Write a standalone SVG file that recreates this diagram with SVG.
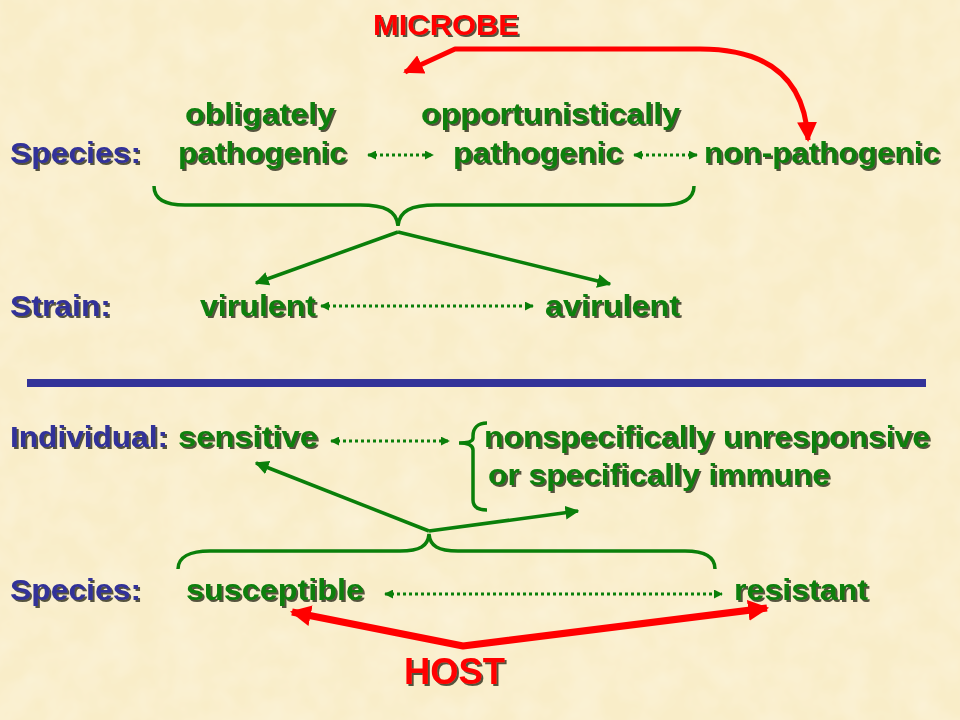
<svg xmlns="http://www.w3.org/2000/svg" width="960" height="720" viewBox="0 0 960 720">
<defs>
<style>
text{font-family:"Liberation Sans",Arial,sans-serif;font-weight:bold;filter:url(#sh)}
.g{fill:#0A7F0A;font-size:30px}
.b{fill:#333399;font-size:30px}
.r{fill:#FF0000}
.gl{fill:none;stroke:#0A7F0A;stroke-width:3.5}
.dot{fill:none;stroke:#0A7F0A;stroke-width:3;stroke-dasharray:3 3;marker-start:url(#gs);marker-end:url(#gs)}
.arr{fill:none;stroke:#0A7F0A;stroke-width:3.5;marker-end:url(#ga)}
.red{fill:none;stroke:#FF0000;stroke-linejoin:round}
</style>
<filter id="sh" x="-5%" y="-20%" width="115%" height="150%">
<feDropShadow dx="2" dy="2" stdDeviation="0.6" flood-color="#2a2a1a" flood-opacity="0.8"/>
</filter>
<filter id="tex" x="0" y="0" width="100%" height="100%">
<feTurbulence type="fractalNoise" baseFrequency="0.03" numOctaves="3" seed="4"/>
<feColorMatrix type="matrix" values="0 0 0 0 1  0 0 0 0 0.98  0 0 0 0 0.92  0 0 0 0.5 -0.15"/>
</filter>
<marker id="gs" viewBox="0 0 10 10" refX="9" refY="5" markerWidth="3" markerHeight="3" orient="auto-start-reverse">
<path d="M0,0 L10,5 L0,10 z" fill="#0A7F0A"/>
</marker>
<marker id="ga" viewBox="0 0 10 10" refX="9" refY="5" markerWidth="4" markerHeight="4" orient="auto-start-reverse">
<path d="M0,0 L10,5 L0,10 z" fill="#0A7F0A"/>
</marker>
<marker id="ra" viewBox="0 0 10 10" refX="9" refY="5" markerWidth="4" markerHeight="4" orient="auto-start-reverse">
<path d="M0,0 L10,5 L0,10 z" fill="#FF0000"/>
</marker>
<marker id="rb" viewBox="0 0 10 10" refX="9" refY="5" markerWidth="3" markerHeight="3" orient="auto-start-reverse">
<path d="M0,0 L10,5 L0,10 z" fill="#FF0000"/>
</marker>
</defs>
<rect width="960" height="720" fill="#F9EDC8"/>
<rect width="960" height="720" filter="url(#tex)"/>

<g id="microbe"><text class="r" x="373" y="35" font-size="30" textLength="146" lengthAdjust="spacingAndGlyphs">MICROBE</text></g>
<g id="obligately"><text class="g" x="185" y="124" textLength="150" lengthAdjust="spacingAndGlyphs">obligately</text></g>
<g id="opportunistically"><text class="g" x="421" y="124" textLength="259" lengthAdjust="spacingAndGlyphs">opportunistically</text></g>
<g id="species1"><text class="b" x="10" y="163" textLength="131" lengthAdjust="spacingAndGlyphs">Species:</text></g>
<g id="pathogenic1"><text class="g" x="178" y="163" textLength="169" lengthAdjust="spacingAndGlyphs">pathogenic</text></g>
<g id="pathogenic2"><text class="g" x="453" y="163" textLength="170" lengthAdjust="spacingAndGlyphs">pathogenic</text></g>
<g id="nonpathogenic"><text class="g" x="704" y="163" textLength="236" lengthAdjust="spacingAndGlyphs">non-pathogenic</text></g>
<g id="strain"><text class="b" x="10" y="316" textLength="101" lengthAdjust="spacingAndGlyphs">Strain:</text></g>
<g id="virulent"><text class="g" x="200" y="316" textLength="116" lengthAdjust="spacingAndGlyphs">virulent</text></g>
<g id="avirulent"><text class="g" x="545" y="316" textLength="135" lengthAdjust="spacingAndGlyphs">avirulent</text></g>
<g id="divider"><rect x="27" y="379" width="899" height="8" fill="#333399"/></g>
<g id="individual"><text class="b" x="10" y="447" textLength="158" lengthAdjust="spacingAndGlyphs">Individual:</text></g>
<g id="sensitive"><text class="g" x="178" y="447" textLength="140" lengthAdjust="spacingAndGlyphs">sensitive</text></g>
<g id="unresponsive">
<text class="g" x="484" y="447" textLength="446" lengthAdjust="spacingAndGlyphs">nonspecifically unresponsive</text>
<text class="g" x="488" y="485" textLength="342" lengthAdjust="spacingAndGlyphs">or specifically immune</text>
</g>
<g id="species2"><text class="b" x="10" y="600" textLength="131" lengthAdjust="spacingAndGlyphs">Species:</text></g>
<g id="susceptible"><text class="g" x="186" y="600" textLength="178" lengthAdjust="spacingAndGlyphs">susceptible</text></g>
<g id="resistant"><text class="g" x="734" y="600" textLength="134" lengthAdjust="spacingAndGlyphs">resistant</text></g>
<g id="host"><text class="r" x="404" y="684" font-size="36" textLength="101" lengthAdjust="spacingAndGlyphs">HOST</text></g>

<g id="connectors">
<path class="red" stroke-width="5" marker-start="url(#ra)" marker-end="url(#ra)" d="M405,72 L455,49 L700,49 C770,49 805,80 808,140"/>
<path class="dot" d="M368,155 L433,155"/>
<path class="dot" d="M634,155 L697,155"/>
<path class="gl" d="M154,186 C154,199 165,205 185,205 L360,205 C385,205 397,211 398,226 C399,211 411,205 436,205 L662,205 C683,205 694,199 694,186"/>
<path class="arr" d="M398,232 L256,283"/>
<path class="arr" d="M398,232 L610,284"/>
<path class="dot" d="M321,306 L533,306"/>
<path class="dot" d="M331,441 L449,441"/>
<path class="gl" d="M487,423 C478,423 473,428 473,436 L473,438 C473,441 469,443 459,443 C469,443 473,446 473,450 L473,500 C473,507 478,510 487,510"/>
<path class="gl" d="M178,569 C178,557 190,551 210,551 L400,551 C420,551 428,546 429,534 C430,546 438,551 458,551 L685,551 C705,551 715,557 715,569"/>
<path class="arr" d="M429,531 L256,463"/>
<path class="arr" d="M429,531 L578,511"/>
<path class="dot" d="M385,594 L722,594"/>
<path class="red" stroke-width="7" marker-start="url(#rb)" marker-end="url(#rb)" d="M292,612 L463,646 L767,608"/>
</g>
</svg>
